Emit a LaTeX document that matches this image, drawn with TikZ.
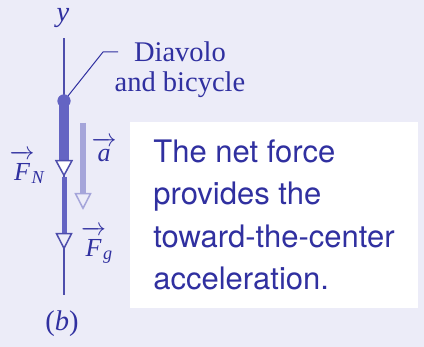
\documentclass[tikz,border=0pt]{standalone}
\usepackage{amsmath}
\usepackage{fontspec}
\setmainfont{Liberation Serif}
\newfontfamily\notefont{TeX Gyre Heros}
\usetikzlibrary{
    arrows.meta,
    positioning
}
\definecolor{PageLavender}{RGB}{236,236,248}
\definecolor{InkBlue}{RGB}{48,48,160}
\definecolor{AxisBlue}{RGB}{78,78,172}
\definecolor{ForceBlue}{RGB}{100,100,195}
\definecolor{AccelLavender}{RGB}{165,165,218}
\newcommand{\forcevec}[2][21pt]{\overrightarrow{\textit{#2}\rule{0pt}{#1}}}

\begin{document}
\begin{tikzpicture}[
    x=1pt,
    y=1pt,
    whitehead/.tip={Triangle[open, fill=white, color=AxisBlue, length=17pt, width=18pt, line width=1.5pt]},
    hollowhead/.tip={Triangle[open, fill=PageLavender, color=AxisBlue, length=17pt, width=17pt, line width=1.5pt]},
    accelhead/.tip={Triangle[open, fill=PageLavender, color=AccelLavender, length=17pt, width=17pt, line width=1.5pt]},
    labeltext/.style={text=InkBlue, font=\fontsize{28.5}{30}\selectfont},
    vectext/.style={text=InkBlue, font=\fontsize{26}{30}\selectfont, inner sep=0pt}
]

% background
\fill[PageLavender] (0,0) rectangle (424,347);
\useasboundingbox (0,0) rectangle (424,347);

% y axis
\coordinate (axistop) at (64,309);
\coordinate (axisbottom) at (64,52);
\draw[AxisBlue, line width=1.2pt] (axisbottom) -- (axistop);
\node[labeltext, inner sep=0pt] (ylabel) at (63,329) {\textit{y}};

% forces and acceleration
\node[
    circle,
    fill=ForceBlue,
    minimum size=13pt,
    inner sep=0pt
] (body) at (64,246) {};
\coordinate (fntip) at (64,170);
\coordinate (fgtip) at (64,97);
\coordinate (astart) at (83,224);
\coordinate (atip) at (83,137);

\draw[-{accelhead}, AccelLavender, line width=5.5pt] (astart) -- (atip);
\draw[-{hollowhead}, ForceBlue, line width=5pt] (fntip) -- (fgtip);
\draw[-{whitehead}, ForceBlue, line width=10pt] (body.center) -- (fntip);
\fill[ForceBlue] (body) circle (6.5pt);

\node[vectext] (fnlabel) at (27,180) {$\forcevec{F}_{\!\textit{N}}$};
\node[vectext] (alabel) at (104,197) {$\forcevec[15pt]{a}$};
\node[vectext] (fglabel) at (97,102) {$\forcevec{F}_{\!\textit{g}}$};

% leader to the label
\node[
    labeltext,
    align=center,
    inner sep=0pt
] (bikelabel) at (180,277) {Diavolo\\and bicycle};
\coordinate (bend) at (103,295);
\coordinate (leaderend) at (118,295);
\draw[InkBlue, line width=1pt] (body) -- (bend) -- (leaderend);

% note box
\node[
    fill=white,
    minimum width=288pt,
    minimum height=186pt,
    align=left,
    text=InkBlue,
    font=\notefont\fontsize{31}{42.5}\selectfont
] (note) at (274,132) {The net force\\provides the\\toward-the-center\\acceleration.};

\node[labeltext, inner sep=0pt] (partlabel) at (62,23) {(\textit{b})};

\end{tikzpicture}
\end{document}
